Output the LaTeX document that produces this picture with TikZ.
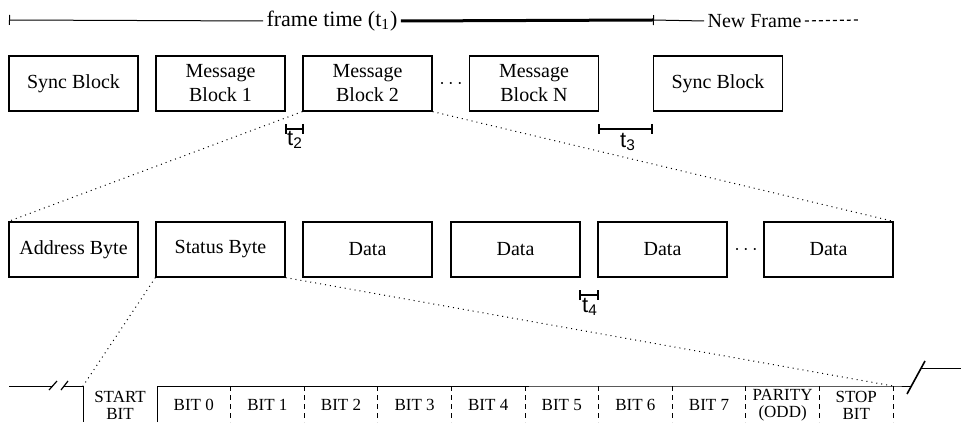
\documentclass[tikz,border=0pt]{standalone}
\usepackage{fontspec}
\setmainfont{Liberation Serif}
\newfontfamily\tfont{Liberation Sans}
\usetikzlibrary{arrows.meta}

\begin{document}
\begin{tikzpicture}[x=0.5pt,y=-0.5pt,
  block/.style={draw,line width=0.6pt,minimum width=64.5pt,minimum height=27.5pt,inner sep=0pt,align=center,font=\fontsize{10}{12}\selectfont},
  bitlabel/.style={align=center,inner sep=0pt,font=\fontsize{8.5}{8.5}\selectfont},
  tbar/.style={{Bar[width=5pt]}-{Bar[width=5pt]},line width=1pt},
  tlabel/.style={inner sep=0pt,font=\tfont\fontsize{11}{11}\selectfont},
  zoomline/.style={dotted,line width=0.5pt},
  divider/.style={dash pattern=on 2.5pt off 2pt,line width=0.5pt}]
\useasboundingbox (0,0) rectangle (961,422);
% frame time
\coordinate (f0) at (9,20);
\coordinate (f1) at (653,20);
\coordinate (f2) at (858,20);
\node[inner sep=1.5pt,font=\fontsize{11}{13}\selectfont] (ft) at (332,21) {frame time (t\textsubscript{1})};
\node[inner sep=1.5pt,font=\fontsize{10}{12}\selectfont] (nf) at (754.5,21) {New Frame};
\draw[{Bar[width=5pt]}-,line width=0.5pt] (f0) -- (ft.west);
\draw[line width=1.5pt] (ft.east) -- (f1);
\draw[{Bar[width=5pt]}-,line width=0.5pt] (f1) -- (nf.west);
\draw[dash pattern=on 2pt off 1.5pt,line width=0.6pt] (nf.east) -- (f2);
% blocks of one frame
\node[block] (sync) at (73.5,83.5) {Sync Block};
\node[block] (msg1) at (220.5,83.5) {Message\\Block 1};
\node[block] (msg2) at (367.5,83.5) {Message\\Block 2};
\node (dots1) at (451,84) {$\cdots$};
\node[block] (msgn) at (534,83.5) {Message\\Block N};
\node[block] (sync2) at (718,83.5) {Sync Block};
\coordinate (t2a) at (285,129);
\coordinate (t2b) at (304,129);
\draw[tbar] (t2a) -- (t2b);
\node[tlabel] (t2) at (295,140) {t\textsubscript{2}};
\coordinate (t3a) at (598,129);
\coordinate (t3b) at (653,129);
\draw[tbar] (t3a) -- (t3b);
\node[tlabel] (t3) at (628,142) {t\textsubscript{3}};
% bytes of one message block
\node[block] (addr) at (73.5,249.5) {Address Byte};
\node[block] (status) at (220.5,249.5) {Status Byte};
\node[block] (data1) at (367.5,249.5) {Data};
\node[block] (data2) at (515.5,249.5) {Data};
\node[block] (data3) at (662.5,249.5) {Data};
\node (dots2) at (746,250) {$\cdots$};
\node[block] (data4) at (828.5,249.5) {Data};
\coordinate (t4a) at (579,295);
\coordinate (t4b) at (599,295);
\draw[tbar] (t4a) -- (t4b);
\node[tlabel] (t4) at (590,307) {t\textsubscript{4}};
\draw[zoomline] (msg2.south west) -- (addr.north west);
\draw[zoomline] (msg2.south east) -- (data4.north east);
% bits of one byte
\coordinate (st) at (83,386);
\coordinate (sp) at (893,386);
\draw[zoomline] (status.south west) -- (st);
\draw[zoomline] (status.south east) -- (sp);
\draw[line width=0.5pt] (9,386) -- (53,386);
\draw[line width=0.6pt] (49,390) -- (57,381);
\draw[line width=0.6pt] (61,390) -- (68,381);
\draw[line width=0.5pt] (63,386) -- (st) -- (83,422);
\draw[line width=0.5pt] (157,422) -- (157,386) -- (sp) -- (911,386);
\draw[line width=0.8pt] (907,394) -- (925,361);
\draw[line width=0.5pt] (921,368) -- (961,368);
\draw[divider] (230.6,386) -- (230.6,422);
\draw[divider] (304.2,386) -- (304.2,422);
\draw[divider] (377.8,386) -- (377.8,422);
\draw[divider] (451.4,386) -- (451.4,422);
\draw[divider] (525,386) -- (525,422);
\draw[divider] (598.6,386) -- (598.6,422);
\draw[divider] (672.2,386) -- (672.2,422);
\draw[divider] (745.8,386) -- (745.8,422);
\draw[divider] (819.4,386) -- (819.4,422);
\draw[divider] (sp) -- (893,422);
\node[bitlabel] (start) at (120,405) {START\\BIT};
\node[bitlabel] (bit0) at (193.8,405) {BIT 0};
\node[bitlabel] (bit1) at (267.4,405) {BIT 1};
\node[bitlabel] (bit2) at (341,405) {BIT 2};
\node[bitlabel] (bit3) at (414.6,405) {BIT 3};
\node[bitlabel] (bit4) at (488.2,405) {BIT 4};
\node[bitlabel] (bit5) at (561.8,405) {BIT 5};
\node[bitlabel] (bit6) at (635.4,405) {BIT 6};
\node[bitlabel] (bit7) at (709,405) {BIT 7};
\node[bitlabel] (parity) at (782.6,405) {PARITY\\(ODD)};
\node[bitlabel] (stop) at (856.2,405) {STOP\\BIT};
\end{tikzpicture}
\end{document}
